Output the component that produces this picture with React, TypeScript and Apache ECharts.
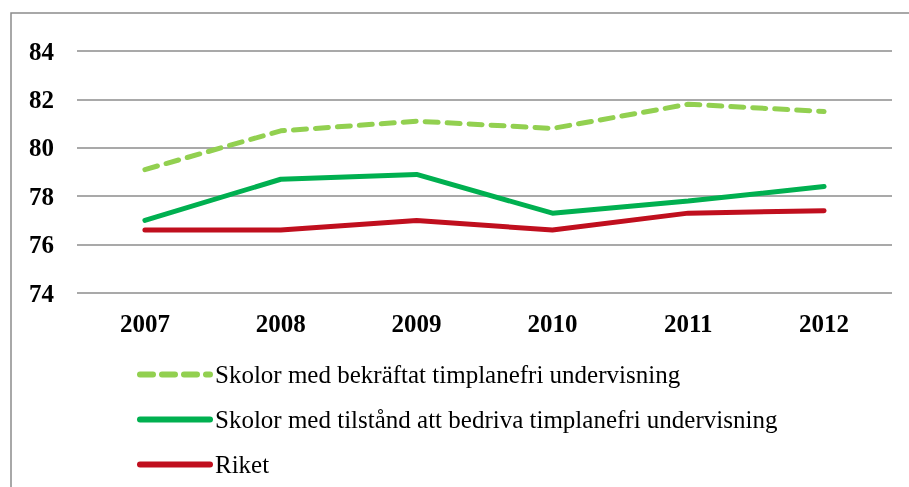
import React, { useEffect, useRef } from "react";
import * as echarts from "echarts";

const categories = ["2007", "2008", "2009", "2010", "2011", "2012"];
const bekraftat = [79.1, 80.7, 81.1, 80.8, 81.8, 81.5];
const tillstand = [77.0, 78.7, 78.9, 77.3, 77.8, 78.4];
const riket = [76.6, 76.6, 77.0, 76.6, 77.3, 77.4];
const seriesNames = [
  "Skolor med bekräftat timplanefri undervisning",
  "Skolor med tilstånd att bedriva timplanefri undervisning",
  "Riket",
];

export default function App() {
  const ref = useRef<HTMLDivElement>(null);
  useEffect(() => {
    if (!ref.current) return;
    const chart = echarts.init(ref.current, null, { renderer: "svg" });
    chart.setOption({
      animation: false,
      grid: { left: 77, right: 17, top: 51, bottom: 194 },
      xAxis: {
        type: "category",
        data: categories,
        boundaryGap: true,
        axisLine: { show: false },
        axisTick: { show: false },
        axisLabel: {
          fontFamily: "Liberation Serif",
          fontWeight: "bold",
          fontSize: 25,
          color: "#000000",
          margin: 18,
        },
      },
      yAxis: {
        type: "value",
        min: 74,
        max: 84,
        interval: 2,
        axisLine: { show: false },
        axisTick: { show: false },
        splitLine: { lineStyle: { color: "#8c8c8c", width: 1.5 } },
        axisLabel: {
          fontFamily: "Liberation Serif",
          fontWeight: "bold",
          fontSize: 25,
          color: "#000000",
          margin: 23,
        },
      },
      legend: {
        orient: "vertical",
        left: 132,
        top: 357,
        itemWidth: 70,
        itemHeight: 14,
        itemGap: 20,
        itemStyle: { opacity: 0 },
        lineStyle: { width: 6, cap: "round" },
        textStyle: { fontFamily: "Liberation Serif", fontSize: 25, color: "#000000" },
        data: seriesNames,
      },
      graphic: [
        {
          type: "rect",
          shape: { x: 11, y: 13, width: 920, height: 500 },
          style: { fill: "none", stroke: "#8c8c8c", lineWidth: 1.5 },
          silent: true,
        },
      ],
      series: [
        {
          name: seriesNames[0],
          type: "line",
          data: bekraftat,
          symbol: "none",
          color: "#92D050",
          lineStyle: { color: "#92D050", width: 5, type: [13, 9], cap: "round" },
        },
        {
          name: seriesNames[1],
          type: "line",
          data: tillstand,
          symbol: "none",
          color: "#00B050",
          lineStyle: { color: "#00B050", width: 5, cap: "round" },
        },
        {
          name: seriesNames[2],
          type: "line",
          data: riket,
          symbol: "none",
          color: "#C00F1E",
          lineStyle: { color: "#C00F1E", width: 5, cap: "round" },
        },
      ],
    });
    return () => chart.dispose();
  }, []);
  return (
    <div
      ref={ref}
      style={{ position: "fixed", left: 0, top: 0, width: 909, height: 487 }}
    />
  );
}
